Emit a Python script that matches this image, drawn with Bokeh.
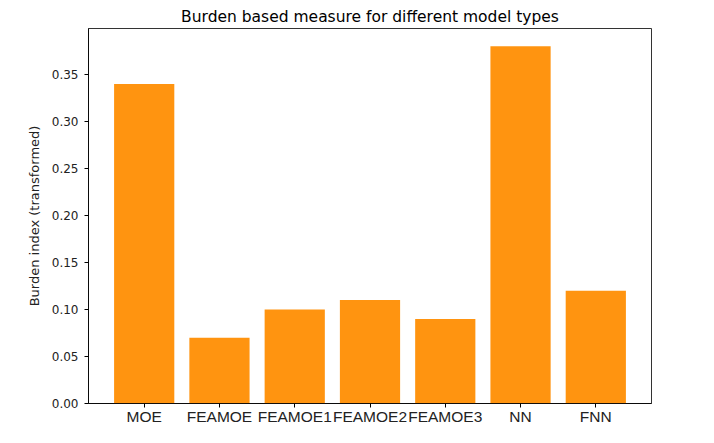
from bokeh.plotting import figure
from bokeh.models import Range1d, FixedTicker, NumeralTickFormatter, ColumnDataSource
from bokeh.embed import file_html
from bokeh.resources import INLINE

categories = ["MOE", "FEAMOE", "FEAMOE1", "FEAMOE2", "FEAMOE3", "NN", "FNN"]
burden = [0.34, 0.07, 0.10, 0.11, 0.09, 0.38, 0.12]
y_ticks = [0.00, 0.05, 0.10, 0.15, 0.20, 0.25, 0.30, 0.35]

xpos = list(range(len(categories)))
src = ColumnDataSource(dict(x=xpos, top=burden, name=categories))

p = figure(width=698, height=427, output_backend="svg", toolbar_location=None,
           x_range=Range1d(-0.74, len(categories) - 1 + 0.74),
           y_range=Range1d(0, max(burden) * 1.05),
           min_border_left=88, min_border_right=47, min_border_top=28, min_border_bottom=24,
           title="Burden based measure for different model types")

p.vbar(x="x", top="top", width=0.8, source=src, fill_color="#ff9410", line_color=None)

p.title.align = "center"
p.title.text_font = "DejaVu Sans"
p.title.text_font_size = "15.5px"
p.title.text_font_style = "normal"
p.title.text_color = "#000000"
p.title.standoff = 6

p.xgrid.visible = False
p.ygrid.visible = False
p.outline_line_color = "#000000"
p.outline_line_width = 1
p.outline_line_alpha = 0.8

p.xaxis.ticker = FixedTicker(ticks=xpos)
p.xaxis.major_label_overrides = {i: c for i, c in zip(xpos, categories)}
p.xaxis.major_label_text_font = "Liberation Sans"
p.xaxis.major_label_text_font_size = "15.5px"
p.xaxis.major_label_standoff = 0

p.yaxis.ticker = FixedTicker(ticks=y_ticks)
p.yaxis.formatter = NumeralTickFormatter(format="0.00")
p.yaxis.major_label_text_font = "DejaVu Sans"
p.yaxis.major_label_text_font_size = "12px"
p.yaxis.major_label_standoff = 6
p.yaxis.axis_label = "Burden index (transformed)"
p.yaxis.axis_label_text_font = "DejaVu Sans"
p.yaxis.axis_label_text_font_size = "13px"
p.yaxis.axis_label_text_font_style = "normal"
p.yaxis.axis_label_standoff = 7

for ax in (p.xaxis, p.yaxis):
    ax.axis_line_color = "#000000"
    ax.axis_line_alpha = 0.8
    ax.major_tick_line_color = "#000000"
    ax.major_tick_in = 0
    ax.major_tick_out = 4
    ax.minor_tick_line_color = None
    ax.major_label_text_color = "#222222"
    ax.axis_label_text_color = "#222222"

open("out.html", "w").write(file_html(p, INLINE))
